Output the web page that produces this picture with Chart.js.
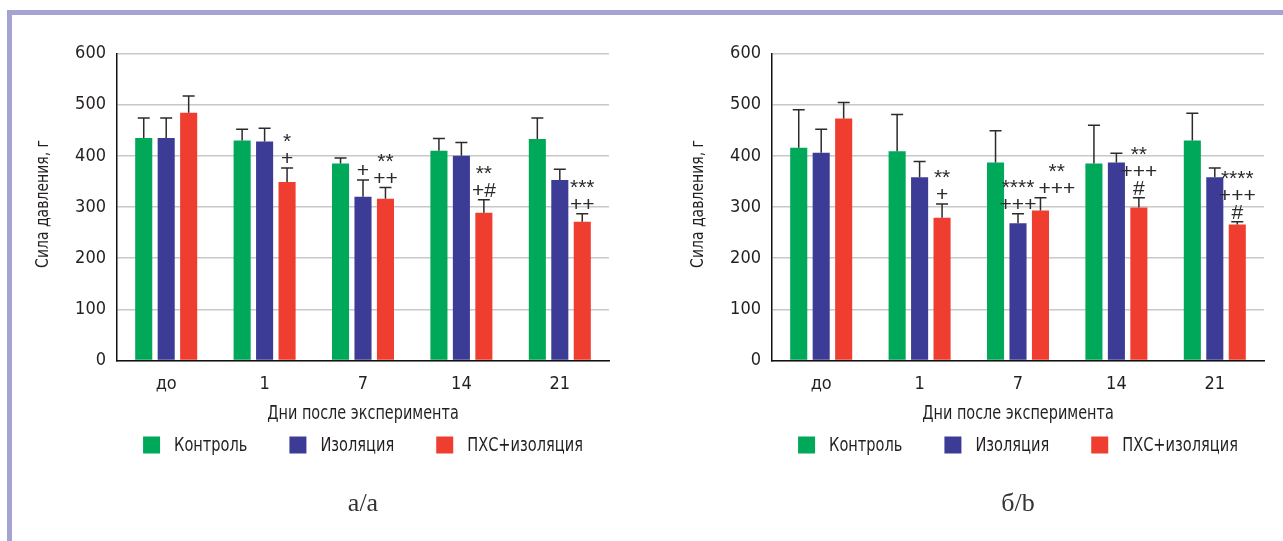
<!DOCTYPE html>
<html>
<head>
<meta charset="utf-8">
<script src="https://cdn.jsdelivr.net/npm/chart.js@4.4.1/dist/chart.umd.min.js"></script>
<style>
html,body{margin:0;padding:0;background:#fff;width:1283px;height:541px;overflow:hidden;}
#frame{position:absolute;left:7px;top:10px;width:1276px;height:531px;border-left:5px solid #a4a3d3;border-top:5px solid #a4a3d3;box-sizing:border-box;background:#fff;}
.wrap{position:absolute;top:0;width:628px;height:541px;}
.cap{position:absolute;top:486px;width:200px;text-align:center;font-family:'Liberation Serif','DejaVu Serif',serif;font-size:26px;line-height:34px;color:#333;}
</style>
</head>
<body>
<div id="frame"></div>
<div class="wrap" style="left:0px"><canvas id="chartA" width="628" height="541"></canvas></div>
<div class="wrap" style="left:655px"><canvas id="chartB" width="628" height="541"></canvas></div>
<div class="cap" id="capA">а/а</div>
<div class="cap" id="capB">б/b</div>
<script>
// ---------- DATA ----------
const categories = ['до', '1', '7', '14', '21'];
const seriesNames = ['Контроль', 'Изоляция', 'ПХС+изоляция'];
const yTicks = [0, 100, 200, 300, 400, 500, 600];
const yTitle = 'Сила давления, г';
const xTitle = 'Дни после эксперимента';

// panel а/а
const aControl      = [435, 430, 385, 410, 433];
const aControlErr   = [39, 22, 11, 24, 41];
const aIsolation    = [435, 428, 320, 400, 353];
const aIsolationErr = [39, 26, 33, 26, 21];
const aPxc          = [484, 349, 316, 289, 271];
const aPxcErr       = [33, 27, 22, 25, 16];
const aControlMarks   = ['', '', '', '', ''];
const aIsolationMarks = ['', '', '+', '', ''];
const aPxcMarks       = ['', '*\n+', '**\n++', '**\n+#', '***\n++'];

// panel б/b
const bControl      = [416, 409, 387, 385, 430];
const bControlErr   = [74, 72, 62, 75, 53];
const bIsolation    = [406, 358, 268, 387, 358];
const bIsolationErr = [46, 31, 19, 18, 18];
const bPxc          = [473, 279, 293, 299, 266];
const bPxcErr       = [31, 27, 25, 19, 5];
const bControlMarks   = ['', '', '', '', ''];
const bIsolationMarks = ['', '', '****\n+++', '', ''];
const bPxcMarks       = ['', '**\n+', '**\n+++', '**\n+++\n#', '****\n+++\n#'];

// ---------- STYLE ----------
const colors = ['#00a859', '#3c3c96', '#ef3e2f'];
const FONT = "'Liberation Sans Narrow','DejaVu Sans Condensed','Liberation Sans',sans-serif";
const MARKFONT = "'Liberation Sans','DejaVu Sans',sans-serif";
const TEXT = '#231f20';

function narrowText(ctx, text, x, y, sx, rot) {
  ctx.save();
  ctx.translate(x, y);
  if (rot) ctx.rotate(rot);
  ctx.scale(sx, 1);
  ctx.fillText(text, 0, 0);
  ctx.restore();
}

const errorMarksPlugin = {
  id: 'errorMarks',
  afterDatasetsDraw(chart) {
    const ctx = chart.ctx;
    const ys = chart.scales.y;
    const caps = [];
    ctx.save();
    ctx.strokeStyle = '#2b2b2b';
    ctx.lineWidth = 1.5;
    chart.data.datasets.forEach((ds, di) => {
      const meta = chart.getDatasetMeta(di);
      caps[di] = [];
      meta.data.forEach((bar, i) => {
        const top = ys.getPixelForValue(ds.data[i] + ds.errors[i]);
        caps[di][i] = top;
        ctx.beginPath();
        ctx.moveTo(bar.x, bar.y);
        ctx.lineTo(bar.x, top);
        ctx.moveTo(bar.x - 6, top);
        ctx.lineTo(bar.x + 6, top);
        ctx.stroke();
      });
    });
    // significance marks
    ctx.font = '21px ' + MARKFONT;
    ctx.fillStyle = '#2b2b2b';
    ctx.textAlign = 'center';
    ctx.textBaseline = 'alphabetic';
    const n = chart.data.labels.length;
    for (let i = 0; i < n; i++) {
      let lastRight = -Infinity;
      chart.data.datasets.forEach((ds, di) => {
        const txt = ds.marks[i];
        if (!txt) return;
        const lines = txt.split('\n');
        const w = Math.max(...lines.map(l => ctx.measureText(l).width));
        const bar = chart.getDatasetMeta(di).data[i];
        let cx = bar.x;
        if (cx - w / 2 < lastRight + 2) cx = lastRight + 2 + w / 2;
        const base = caps[di][i] - 3;
        for (let k = 0; k < lines.length; k++) {
          const line = lines[lines.length - 1 - k];
          ctx.fillText(line, cx, base - k * 17);
        }
        lastRight = cx + w / 2;
      });
    }
    ctx.restore();
  }
};

const legendTitlesPlugin = {
  id: 'customLegendTitles',
  afterDraw(chart) {
    const ctx = chart.ctx;
    const ca = chart.chartArea;
    const midX = (ca.left + ca.right) / 2;
    const midY = (ca.top + ca.bottom) / 2;
    ctx.save();
    ctx.fillStyle = TEXT;
    // axis titles
    ctx.font = '19px ' + FONT;
    ctx.textAlign = 'center';
    ctx.textBaseline = 'alphabetic';
    narrowText(ctx, xTitle, midX, ca.bottom + 58.5, 0.845, 0);
    ctx.font = '18px ' + FONT;
    ctx.textBaseline = 'middle';
    narrowText(ctx, yTitle, 43, midY - 3, 0.864, -Math.PI / 2);
    // legend
    const sx = 0.81;
    ctx.font = '20px ' + FONT;
    const box = 17, gapText = 14, gapItem = 42;
    const items = chart.data.datasets.map(d => ({label: d.label, color: d.backgroundColor, w: ctx.measureText(d.label).width * sx}));
    const total = items.reduce((s, it) => s + box + gapText + it.w, 0) + gapItem * (items.length - 1);
    let x = midX - total / 2;
    const cy = ca.bottom + 84.5;
    items.forEach(it => {
      ctx.fillStyle = it.color;
      ctx.fillRect(x, cy - 8.5, box, box);
      ctx.fillStyle = TEXT;
      ctx.textAlign = 'left';
      ctx.textBaseline = 'middle';
      narrowText(ctx, it.label, x + box + gapText, cy + 1, sx, 0);
      x += box + gapText + it.w + gapItem;
    });
    ctx.restore();
  }
};

function makeChart(id, capId, series, errs, marks) {
  const datasets = seriesNames.map((name, k) => ({
    label: name,
    data: series[k],
    errors: errs[k],
    marks: marks[k],
    backgroundColor: colors[k],
    borderWidth: 0,
    barPercentage: 0.76,
    categoryPercentage: 0.685
  }));
  const chart = new Chart(document.getElementById(id), {
    type: 'bar',
    data: {labels: categories, datasets},
    options: {
      responsive: false,
      animation: false,
      devicePixelRatio: 1,
      layout: {padding: {top: 53.5, right: 19, bottom: 110, left: 0}},
      plugins: {legend: {display: false}, tooltip: {enabled: false}},
      scales: {
        x: {
          grid: {display: false, drawTicks: false},
          border: {display: true, color: '#111', width: 1.5},
          ticks: {color: TEXT, font: {family: FONT, size: 18}, padding: 13},
          title: {display: false, text: xTitle},
          afterFit(s) { s.height = 541 - 360.5 - 110; }
        },
        y: {
          min: 0, max: 600,
          afterBuildTicks(s) { s.ticks = yTicks.map(v => ({value: v})); },
          grid: {color: '#c8c8c8', lineWidth: 1.5, drawTicks: false},
          border: {display: true, color: '#111', width: 1.5},
          ticks: {color: TEXT, font: {family: FONT, size: 18}, padding: 11},
          title: {display: false, text: yTitle},
          afterFit(s) { s.width = 117; }
        }
      }
    },
    plugins: [errorMarksPlugin, legendTitlesPlugin]
  });
  const ca = chart.chartArea;
  const canvasLeft = document.getElementById(id).parentElement.offsetLeft;
  const cap = document.getElementById(capId);
  cap.style.left = (canvasLeft + (ca.left + ca.right) / 2 - 100) + 'px';
  return chart;
}

makeChart('chartA', 'capA',
  [aControl, aIsolation, aPxc],
  [aControlErr, aIsolationErr, aPxcErr],
  [aControlMarks, aIsolationMarks, aPxcMarks]);
makeChart('chartB', 'capB',
  [bControl, bIsolation, bPxc],
  [bControlErr, bIsolationErr, bPxcErr],
  [bControlMarks, bIsolationMarks, bPxcMarks]);
</script>
</body>
</html>
